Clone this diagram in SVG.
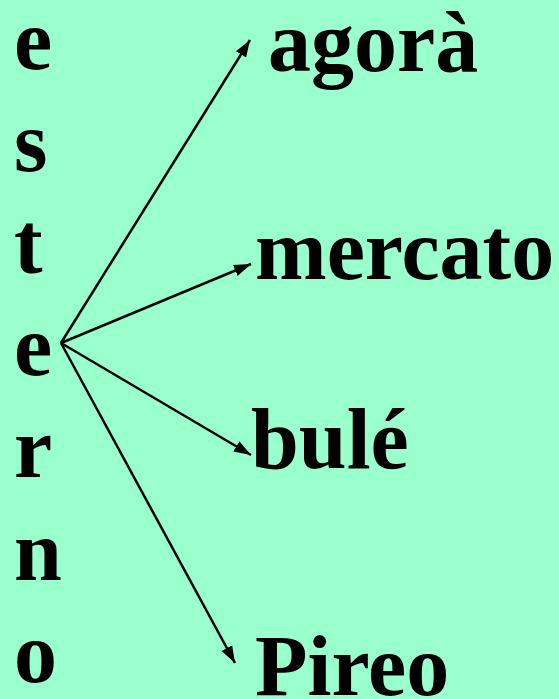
<svg xmlns="http://www.w3.org/2000/svg" width="559" height="699" viewBox="0 0 559 699">
<defs>
<style>
.t{font-family:"Liberation Serif","Times New Roman",serif;font-weight:bold;font-size:86px;fill:#000}
.c{stroke:#000;stroke-width:2.5;fill:none}
</style>
<marker id="ah" markerUnits="userSpaceOnUse" markerWidth="18" markerHeight="14" refX="17" refY="7" orient="auto">
<path d="M0,1 L17,7 L0,13 Z" fill="#000"/>
</marker>
</defs>
<rect width="559" height="699" fill="#99FFCC"/>
<g id="esterno">
<text class="t" x="14" y="69">e</text>
<text class="t" x="14" y="171">s</text>
<text class="t" x="14" y="273">t</text>
<text class="t" x="14" y="375">e</text>
<text class="t" x="14" y="477">r</text>
<text class="t" x="14" y="580">n</text>
<text class="t" x="14" y="682">o</text>
</g>
<g id="agora"><text class="t" x="268" y="71">agorà</text></g>
<g id="mercato"><text class="t" x="255" y="279">mercato</text></g>
<g id="bule"><text class="t" x="251" y="468">bulé</text></g>
<g id="pireo"><text class="t" x="255" y="695">Pireo</text></g>
<g id="connectors">
<line class="c" x1="61" y1="343" x2="250" y2="40" marker-end="url(#ah)"/>
<line class="c" x1="61" y1="343" x2="251" y2="264" marker-end="url(#ah)"/>
<line class="c" x1="61" y1="343" x2="251" y2="455" marker-end="url(#ah)"/>
<line class="c" x1="61" y1="343" x2="235" y2="663" marker-end="url(#ah)"/>
</g>
</svg>
